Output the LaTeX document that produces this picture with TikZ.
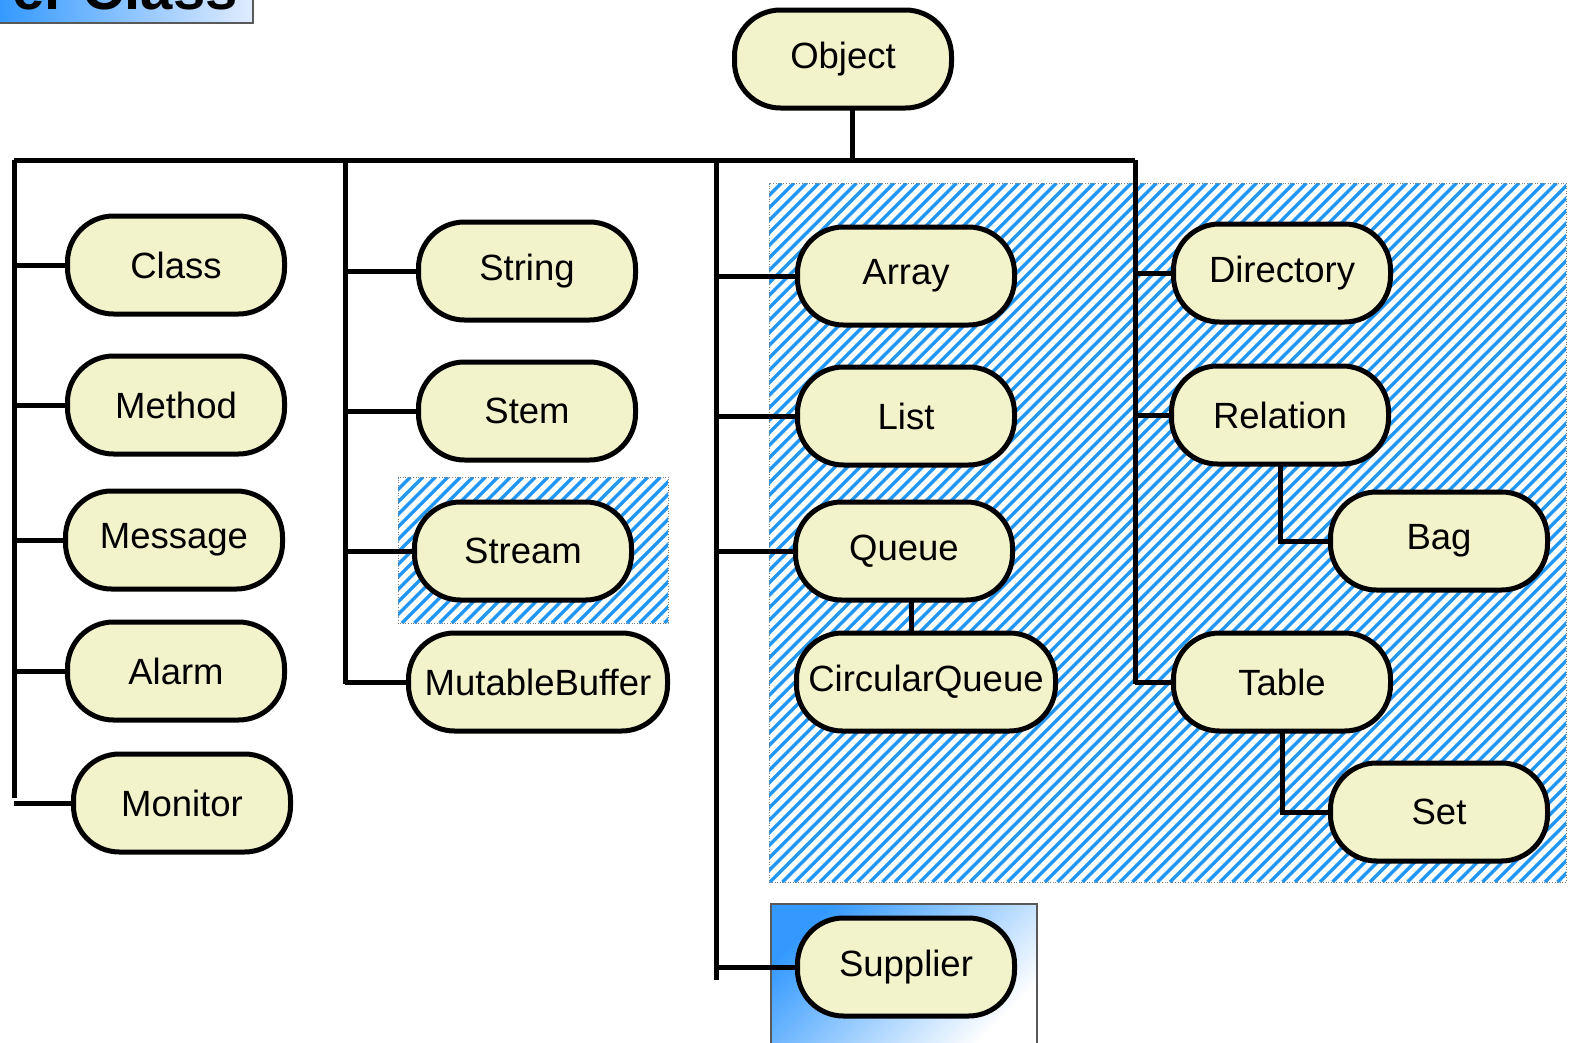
\documentclass[tikz,border=0pt]{standalone}
\usepackage{fontspec}
\setmainfont{Liberation Sans}
\begin{document}
\begin{tikzpicture}[x=1pt,y=-1pt,
  cls/.style={draw=black, line width=5pt, fill=nodefill, rectangle, rounded corners=46pt,
    minimum width=217pt, minimum height=98pt, inner sep=0pt, font=\fontsize{36.5}{40}\selectfont},
  wire/.style={draw=black, line width=5pt},
  hatchline/.style={draw=hatchblue, line width=3.4pt}]
\definecolor{nodefill}{RGB}{243,243,203}
\definecolor{hatchblue}{RGB}{33,150,243}
\definecolor{gradblue}{RGB}{51,153,255}
\definecolor{gradlight}{RGB}{225,236,255}
\useasboundingbox (0,0) rectangle (1577,1042);

% header box (cut off at top)
\begin{scope}
\clip (0,0) rectangle (1577,1042);
\shade[left color=gradblue, right color=gradlight] (-2,-40) rectangle (253,23);
\draw[draw=gray!70!black, line width=1.5pt] (-2,23) -- (253,23) -- (253,-40);
\node[anchor=base east, font=\bfseries\fontsize{58}{60}\selectfont, inner sep=0pt] (hdr) at (238,9) {er Class};
\end{scope}

% hatched areas
\begin{scope}
\clip (769,183) rectangle (1566,882);
\foreach \i in {0,...,125} {
  \draw[hatchline] (70+\i*12.5,882) -- (769+\i*12.5,183);
}
\end{scope}
\draw[gray, line width=0.6pt, dotted] (769,183) rectangle (1566,882);
\begin{scope}
\clip (398,477) rectangle (668,623);
\foreach \i in {0,...,36} {
  \draw[hatchline] (252+\i*12.5,623) -- (398+\i*12.5,477);
}
\end{scope}
\draw[gray, line width=0.6pt, dotted] (398,477) rectangle (668,623);

% supplier gradient box
\shade[top color=gradblue, bottom color=white, shading angle=45] (771,904) rectangle (1037,1045);
\draw[gray!70!black, line width=1.2pt] (771,1045) -- (771,904) -- (1037,904) -- (1037,1045);

% bus coordinates
\coordinate (top) at (852,160);
\coordinate (bl) at (14,160);
\coordinate (br) at (1135,160);
\coordinate (c1) at (345,160);
\coordinate (c2) at (716,160);
\coordinate (e0) at (14,798);
\coordinate (e1) at (345,684);
\coordinate (e2) at (716,980);
\coordinate (e3) at (1135,684);

% node positions
\coordinate (pObject) at (843,59);
\coordinate (pClass) at (176,265);
\coordinate (pMethod) at (176,405);
\coordinate (pMessage) at (174,540);
\coordinate (pAlarm) at (176,671);
\coordinate (pMonitor) at (182,803);
\coordinate (pString) at (527,271);
\coordinate (pStem) at (527,411);
\coordinate (pStream) at (523,551);
\coordinate (pMutableBuffer) at (538,682);
\coordinate (pArray) at (906,276);
\coordinate (pList) at (906,416);
\coordinate (pQueue) at (904,551);
\coordinate (pCircularQueue) at (926,682);
\coordinate (pDirectory) at (1282,273);
\coordinate (pRelation) at (1280,415);
\coordinate (pBag) at (1439,541);
\coordinate (pTable) at (1282,682);
\coordinate (pSet) at (1439,812);
\coordinate (pSupplier) at (906,967);

% invisible nodes to attach connectors
\foreach \n/\w in {Object/217, Class/217, Method/217, Message/217, Alarm/217, Monitor/217,
  String/217, Stem/217, Stream/217, MutableBuffer/259, Array/217, List/217, Queue/217,
  CircularQueue/259, Directory/217, Relation/217, Bag/217, Table/217, Set/217, Supplier/217} {
  \node[rectangle, minimum width=\w pt, minimum height=98pt, inner sep=0pt] (\n) at (p\n) {};
}

% connectors
\draw[wire] (Object.south -| top) -- (top);
\draw[wire] (bl) -- (br);
\draw[wire] (bl) -- (e0);
\draw[wire] (c1) -- (e1);
\draw[wire] (c2) -- (e2);
\draw[wire] (br) -- (e3);

\draw[wire] (Class.west) -- (Class.west -| bl);
\draw[wire] (Method.west) -- (Method.west -| bl);
\draw[wire] (Message.west) -- (Message.west -| bl);
\draw[wire] (Alarm.west) -- (Alarm.west -| bl);
\draw[wire] (Monitor.west) -- (Monitor.west -| bl);
\draw[wire] (String.west) -- (String.west -| c1);
\draw[wire] (Stem.west) -- (Stem.west -| c1);
\draw[wire] (Stream.west) -- (Stream.west -| c1);
\draw[wire] (MutableBuffer.west) -- (MutableBuffer.west -| c1);
\draw[wire] (Array.west) -- (Array.west -| c2);
\draw[wire] (List.west) -- (List.west -| c2);
\draw[wire] (Queue.west) -- (Queue.west -| c2);
\draw[wire] (Supplier.west) -- (Supplier.west -| c2);
\draw[wire] (Directory.west) -- (Directory.west -| br);
\draw[wire] (Relation.west) -- (Relation.west -| br);
\draw[wire] (Table.west) -- (Table.west -| br);
\draw[wire] ([xshift=7pt]Queue.south) -- ([xshift=7pt]Queue.south |- CircularQueue.north);
\draw[wire] (Relation.south) |- (Bag.west);
\draw[wire] (Table.south) |- (Set.west);

% visible class nodes
\foreach \n/\w in {Object/217, Class/217, Method/217, Message/217, Alarm/217, Monitor/217,
  String/217, Stem/217, Stream/217, MutableBuffer/259, Array/217, List/217, Queue/217,
  CircularQueue/259, Directory/217, Relation/217, Bag/217, Table/217, Set/217, Supplier/217} {
  \node[cls, minimum width=\w pt] (box\n) at (p\n) {\n};
}
\end{tikzpicture}
\end{document}
